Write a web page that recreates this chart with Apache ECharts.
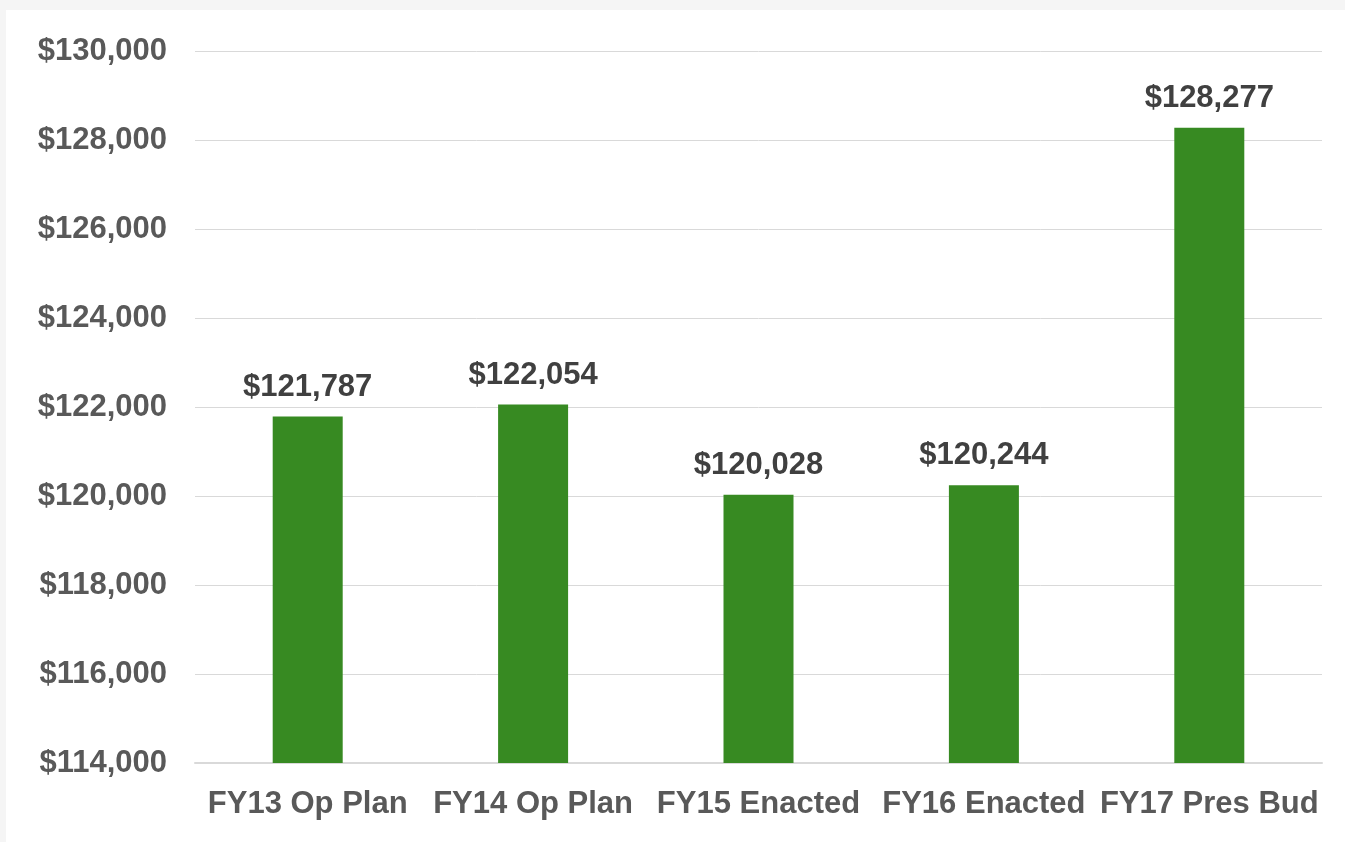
<!DOCTYPE html>
<html>
<head>
<meta charset="utf-8">
<script src="https://cdn.jsdelivr.net/npm/echarts@6/dist/echarts.min.js"></script>
<style>
  html, body { margin: 0; padding: 0; background: #f5f5f5; }
  #panel { position: absolute; left: 6px; top: 10px; right: 0; bottom: 0; background: #fff; }
  #chart { width: 1339px; height: 832px; }
</style>
</head>
<body>
<div id="panel"><div id="chart"></div></div>
<script>
// budget by year
const categories = ['FY13 Op Plan', 'FY14 Op Plan', 'FY15 Enacted', 'FY16 Enacted', 'FY17 Pres Bud']
const values = [121787, 122054, 120028, 120244, 128277]

const fmt = v => '$' + v.toLocaleString('en-US')

const chart = echarts.init(document.getElementById('chart'))

chart.setOption({
  animation: false,
  textStyle: { fontFamily: '"Liberation Sans", Arial, sans-serif' },
  grid: { left: 189, right: 23, top: 41, bottom: 79 },
  xAxis: {
    type: 'category',
    data: categories,
    axisLine: { lineStyle: { color: '#d9d9d9', width: 2 } },
    axisTick: { show: false },
    axisLabel: { interval: 0, color: '#595959', fontSize: 31, fontWeight: 'bold', margin: 26 }
  },
  yAxis: {
    type: 'value',
    min: 114000,
    max: 130000,
    interval: 2000,
    axisLine: { show: false },
    axisTick: { show: false },
    splitLine: { lineStyle: { color: '#d9d9d9', width: 1 } },
    axisLabel: { color: '#595959', fontSize: 31, fontWeight: 'bold', margin: 28, padding: [4, 0, 0, 0], formatter: fmt }
  },
  series: [{
    type: 'bar',
    data: values,
    barWidth: 70,
    itemStyle: { color: '#378a22' },
    label: {
      show: true,
      position: 'top',
      distance: 14,
      color: '#404040',
      fontSize: 31,
      fontWeight: 'bold',
      formatter: p => fmt(p.value)
    }
  }]
})
</script>
</body>
</html>
